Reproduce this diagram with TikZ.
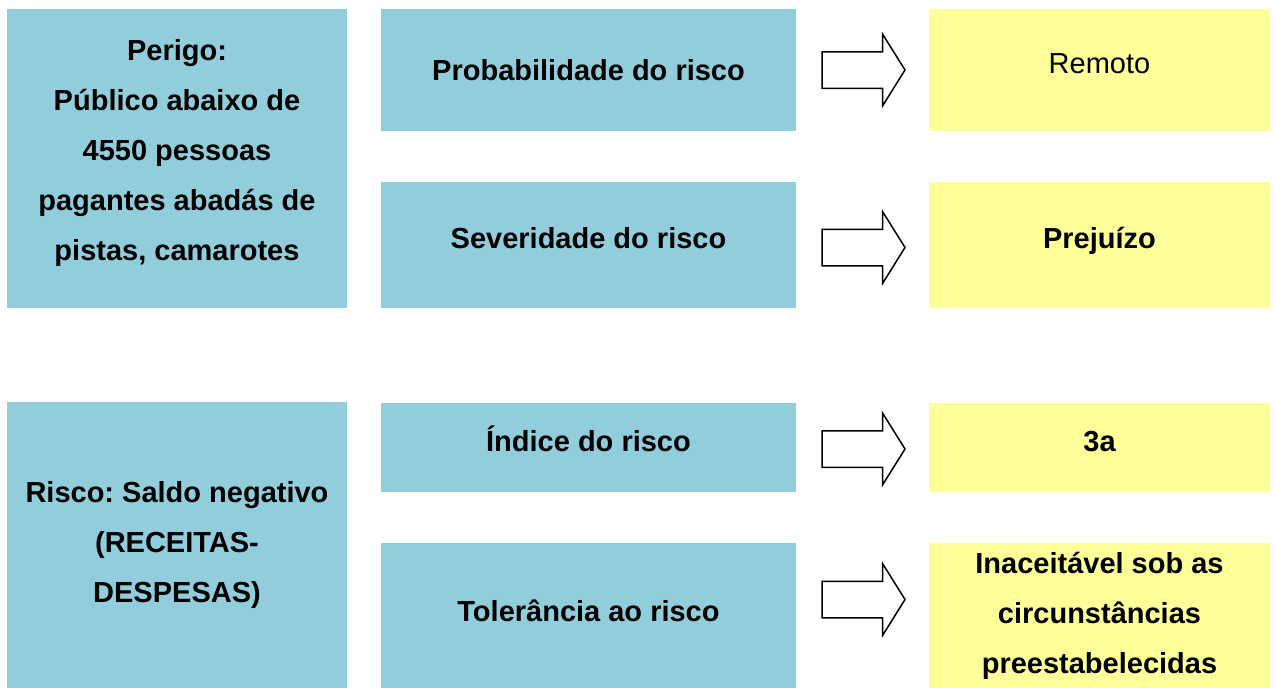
\documentclass[tikz,border=0pt]{standalone}
\usepackage{fontspec}
\setmainfont{Liberation Sans}
\frenchspacing
\usetikzlibrary{positioning}
\usetikzlibrary{shapes.arrows}
\definecolor{riskblue}{HTML}{92CDDC}
\definecolor{riskyellow}{HTML}{FFFF99}

\begin{document}
\begin{tikzpicture}[x=1pt, y=-1pt,
	entry/.style={rectangle, fill=riskblue, inner sep=0pt, outer sep=0pt, align=center, font=\fontsize{29}{50}\selectfont\bfseries},
	result/.style={entry, fill=riskyellow, minimum width=341pt},
	caps/.style={text height=21pt, text depth=#1},
	caps/.default=14pt,
	push/.style={single arrow, draw=black, line width=1.5pt, fill=white, inner sep=17.5pt, outer sep=0pt, minimum height=83pt, single arrow head extend=17.5pt, single arrow tip angle=116}]
	\useasboundingbox (0,0) rectangle (1275,688);
	% upper block
	\node [entry, minimum width=340pt, minimum height=299pt, anchor=north west] (perigo) at (7,9) {Perigo:\\ Público abaixo de\\ 4550 pessoas\\ pagantes abadás de\\ pistas, camarotes\rule[-18pt]{0pt}{0pt}};
	\node [entry, caps=0pt, minimum width=415pt, minimum height=122pt, right=34pt of perigo.north east, anchor=north west] (prob) {Probabilidade do risco};
	\node [entry, caps, minimum width=415pt, minimum height=126pt, below=51pt of prob] (sev) {Severidade do risco};
	\node [result, caps, minimum height=122pt, right=133pt of prob.north east, anchor=north west, font=\fontsize{29}{50}\selectfont] (remoto) {Remoto};
	\node [result, caps, minimum height=126pt, right=133pt of sev.north east, anchor=north west] (prej) {Prejuízo};
	\node [push, right=26pt of prob] (arr1) {};
	\node [push, right=26pt of sev, yshift=-2.5pt] (arr2) {};
	% lower block
	\node [entry, minimum width=340pt, minimum height=286pt, below=94pt of perigo] (risco) {Risco: Saldo negativo\\ (RECEITAS-\\ DESPESAS)};
	\node [entry, caps, minimum width=415pt, minimum height=89pt, right=34pt of risco.north east, anchor=north west, yshift=-1pt] (indice) {Índice do risco};
	\node [entry, caps=10pt, minimum width=415pt, minimum height=145pt, below=51pt of indice] (tol) {Tolerância ao risco};
	\node [result, caps, minimum height=89pt, right=133pt of indice.north east, anchor=north west] (nivel) {3a};
	\node [result, minimum height=145pt, right=133pt of tol.north east, anchor=north west] (inac) {Inaceitável sob as\\ circunstâncias\\ preestabelecidas};
	\node [push, right=26pt of indice, yshift=-1.5pt] (arr3) {};
	\node [push, right=26pt of tol, yshift=16pt] (arr4) {};
\end{tikzpicture}
\end{document}
